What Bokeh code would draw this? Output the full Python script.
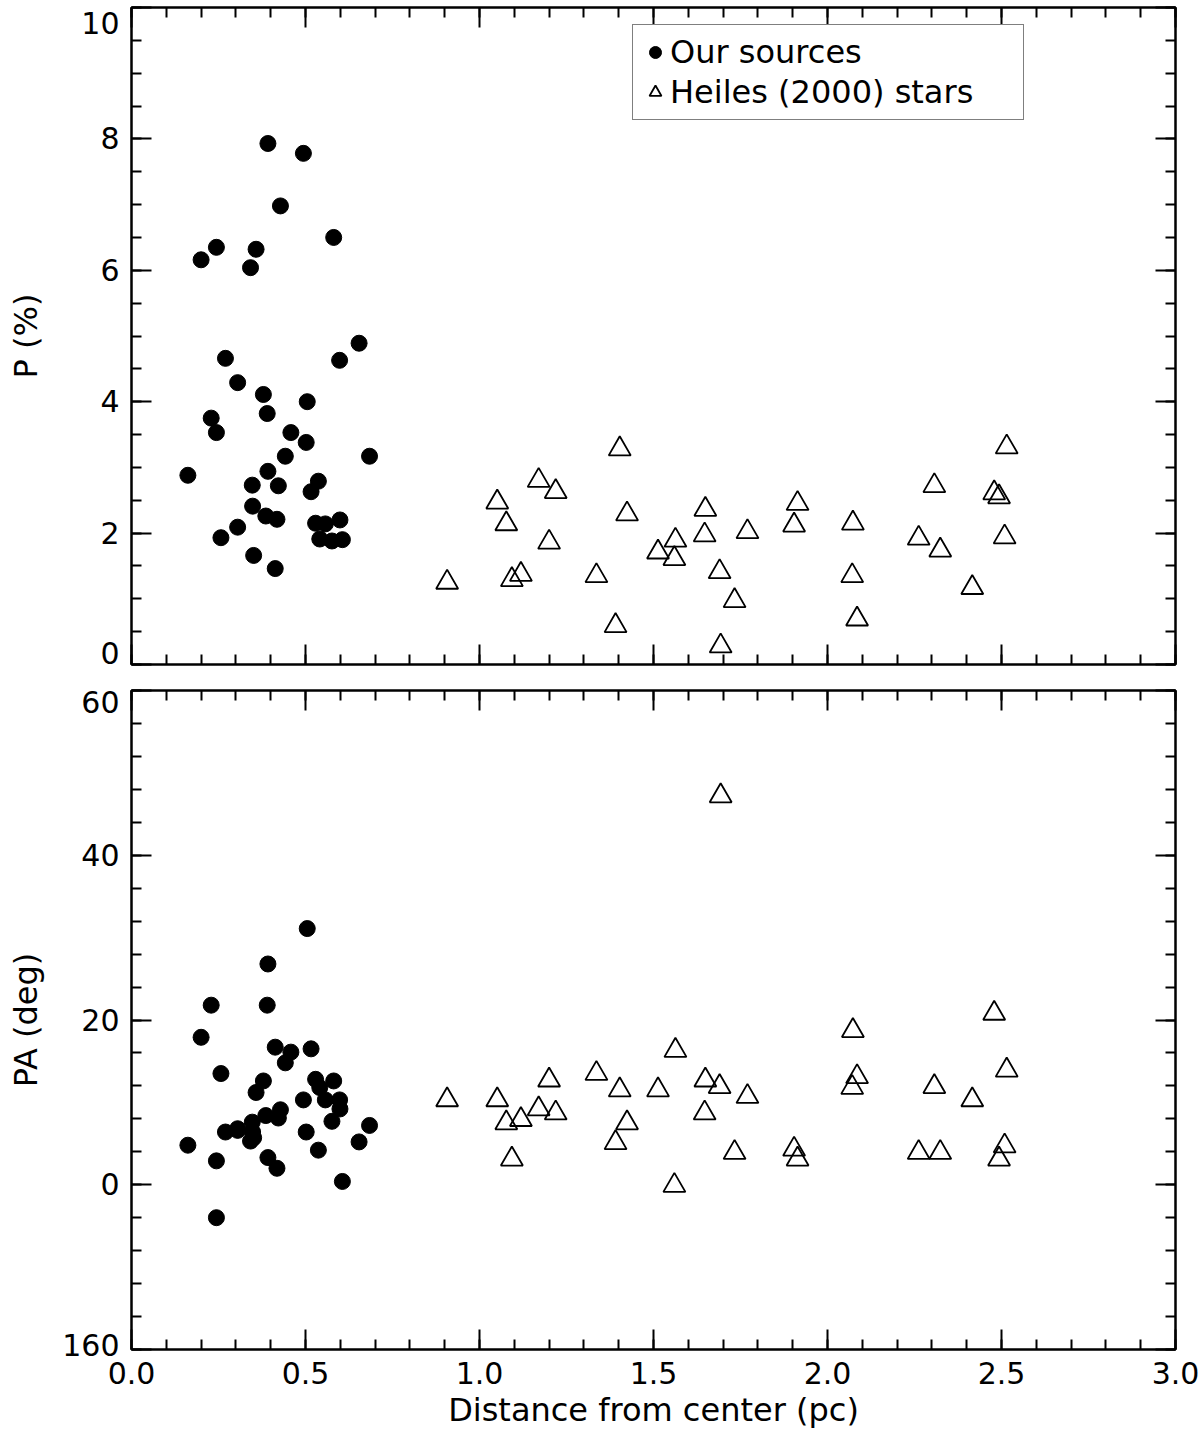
from bokeh.plotting import figure
from bokeh.models import (Range1d, LinearAxis, SingleIntervalTicker, Legend,
                          LegendItem, CustomJSTickFormatter, PrintfTickFormatter)
from bokeh.layouts import column
from bokeh.embed import file_html
from bokeh.resources import INLINE

# ---- data ----
src_dist = [0.162, 0.200, 0.229, 0.244, 0.244, 0.257, 0.270, 0.305, 0.305, 0.342,
            0.347, 0.348, 0.351, 0.358, 0.379, 0.386, 0.390, 0.392, 0.392, 0.413,
            0.418, 0.422, 0.428, 0.442, 0.458, 0.494, 0.502, 0.505, 0.516, 0.529,
            0.537, 0.541, 0.557, 0.576, 0.581, 0.598, 0.599, 0.606, 0.654, 0.684]
src_p = [2.88, 6.16, 3.75, 6.35, 3.53, 1.93, 4.66, 4.29, 2.09, 6.04,
         2.73, 2.41, 1.66, 6.32, 4.11, 2.26, 3.82, 7.93, 2.94, 1.46,
         2.21, 2.72, 6.98, 3.17, 3.53, 7.78, 3.38, 4.00, 2.63, 2.15,
         2.79, 1.91, 2.14, 1.88, 6.50, 4.63, 2.20, 1.90, 4.89, 3.17]
src_pa = [4.8, 17.9, 21.8, 2.9, -4.0, 13.5, 6.4, 6.6, 6.8, 5.3,
          7.6, 6.4, 5.7, 11.2, 12.6, 8.4, 21.8, 26.8, 3.3, 16.7,
          2.0, 8.1, 9.1, 14.8, 16.1, 10.3, 6.4, 31.1, 16.5, 12.8,
          4.2, 11.8, 10.3, 7.7, 12.6, 10.3, 9.2, 0.4, 5.2, 7.2]

star_dist = [0.907, 1.051, 1.077, 1.093, 1.119, 1.170, 1.200, 1.219, 1.336, 1.391,
             1.403, 1.424, 1.513, 1.560, 1.563, 1.647, 1.649, 1.690, 1.693, 1.733,
             1.770, 1.904, 1.914, 2.071, 2.073, 2.085, 2.262, 2.307, 2.324, 2.416,
             2.479, 2.493, 2.509, 2.515]
star_p = [1.25, 2.47, 2.14, 1.29, 1.37, 2.80, 1.86, 2.63, 1.35, 0.59,
          3.28, 2.29, 1.71, 1.61, 1.89, 1.97, 2.36, 1.41, 0.28, 0.97,
          2.02, 2.12, 2.45, 1.35, 2.15, 0.69, 1.92, 2.72, 1.74, 1.17,
          2.61, 2.55, 1.94, 3.31]
star_pa = [10.3, 10.3, 7.5, 3.1, 7.9, 9.2, 12.7, 8.7, 13.5, 5.1,
           11.5, 7.5, 11.5, -0.1, 16.3, 8.7, 12.7, 11.9, 47.2, 3.9,
           10.7, 4.3, 3.1, 11.8, 18.7, 13.1, 3.9, 11.9, 3.9, 10.3,
           20.8, 3.1, 4.7, 13.9]

p_ticks = [0, 2, 4, 6, 8, 10]
p_tick_labels = ["0", "2", "4", "6", "8", "10"]
pa_ticks = [-20, 0, 20, 40, 60]
pa_tick_labels = ["160", "0", "20", "40", "60"]
legend_labels = ["Our sources", "Heiles (2000) stars"]
x_title = "Distance from center (pc)"
y_title_top = "P (%)"
y_title_bottom = "PA (deg)"

FONT = "DejaVu Sans"
FS_TICK = "30px"
FS_TITLE = "32px"
FRAME_W = 1044


def edge_overrides(ticks, labels):
    # labels at the panel edges are nudged inward (as in the original plot)
    ov = {t: l for t, l in zip(ticks, labels)}
    ov[ticks[0]] = labels[0] + "\n"
    ov[ticks[-1]] = "\n" + labels[-1]
    return ov


def style_axis(ax, ticker, labels=True):
    ax.ticker = ticker
    ax.axis_line_color = "black"
    ax.axis_line_width = 2
    ax.major_tick_in = 20
    ax.major_tick_out = 0
    ax.minor_tick_in = 10
    ax.minor_tick_out = 0
    ax.major_tick_line_color = "black"
    ax.minor_tick_line_color = "black"
    ax.major_tick_line_width = 2
    ax.minor_tick_line_width = 2
    ax.axis_label_text_font = FONT
    ax.axis_label_text_font_size = FS_TITLE
    ax.axis_label_text_font_style = "normal"
    ax.axis_label_text_color = "black"
    if labels:
        ax.major_label_text_font = FONT
        ax.major_label_text_font_size = FS_TICK
        ax.major_label_text_color = "black"
        ax.major_label_standoff = 12
    else:
        ax.formatter = CustomJSTickFormatter(code="return ''")
        ax.major_label_text_font_size = "0px"
        ax.major_label_standoff = 0


def make_fig(frame_h, y0, y1, top, bottom):
    p = figure(frame_width=FRAME_W, frame_height=frame_h,
               x_range=Range1d(0, 3), y_range=Range1d(y0, y1),
               output_backend="svg", toolbar_location=None,
               min_border_left=131, min_border_right=25,
               min_border_top=top, min_border_bottom=bottom)
    p.xgrid.visible = False
    p.ygrid.visible = False
    p.outline_line_color = "black"
    p.outline_line_width = 2
    p.background_fill_color = "white"
    p.border_fill_color = "white"
    return p


def x_ticker():
    return SingleIntervalTicker(interval=0.5, num_minor_ticks=5)


# ---- top panel ----
p1 = make_fig(657, p_ticks[0], p_ticks[-1], 7, 12)
style_axis(p1.xaxis[0], x_ticker(), labels=False)
style_axis(p1.yaxis[0], SingleIntervalTicker(interval=2, num_minor_ticks=4))
p1.yaxis[0].major_label_overrides = edge_overrides(p_ticks, p_tick_labels)
p1.yaxis[0].major_label_text_line_height = 0.15
p1.yaxis[0].axis_label = y_title_top
p1.yaxis[0].axis_label_standoff = 33
ax = LinearAxis()
style_axis(ax, x_ticker(), labels=False)
p1.add_layout(ax, "above")
ax = LinearAxis()
style_axis(ax, SingleIntervalTicker(interval=2, num_minor_ticks=4), labels=False)
p1.add_layout(ax, "right")

r_src = p1.scatter(src_dist, src_p, marker="circle", size=16,
                   fill_color="black", line_color="black")
r_star = p1.scatter(star_dist, star_p, marker="triangle", size=22,
                    fill_color=None, line_color="black", line_width=1.8)

legend = Legend(items=[LegendItem(label=legend_labels[0], renderers=[r_src]),
                       LegendItem(label=legend_labels[1], renderers=[r_star])],
                location=(501, 544))
legend.border_line_color = "black"
legend.border_line_width = 1.5
legend.background_fill_color = "white"
legend.background_fill_alpha = 1
legend.label_text_font = FONT
legend.label_text_font_size = FS_TITLE
legend.label_text_color = "black"
legend.padding = 7
legend.margin = 0
legend.spacing = 0
legend.glyph_width = 30
legend.glyph_height = 30
legend.label_height = 40
legend.label_width = 346
legend.label_standoff = 0
p1.add_layout(legend)

# ---- bottom panel ----
p2 = make_fig(659, pa_ticks[0], pa_ticks[-1], 14, 90)
style_axis(p2.xaxis[0], x_ticker())
p2.xaxis[0].formatter = PrintfTickFormatter(format="%.1f")
p2.xaxis[0].axis_label = x_title
p2.xaxis[0].major_label_standoff = 12
p2.xaxis[0].axis_label_standoff = 4
style_axis(p2.yaxis[0], SingleIntervalTicker(interval=20, num_minor_ticks=5))
p2.yaxis[0].major_label_overrides = edge_overrides(pa_ticks, pa_tick_labels)
p2.yaxis[0].major_label_text_line_height = 0.25
p2.yaxis[0].axis_label = y_title_bottom
p2.yaxis[0].axis_label_standoff = 14
ax = LinearAxis()
style_axis(ax, x_ticker(), labels=False)
p2.add_layout(ax, "above")
ax = LinearAxis()
style_axis(ax, SingleIntervalTicker(interval=20, num_minor_ticks=5), labels=False)
p2.add_layout(ax, "right")

p2.scatter(src_dist, src_pa, marker="circle", size=16,
           fill_color="black", line_color="black")
p2.scatter(star_dist, star_pa, marker="triangle", size=22,
           fill_color=None, line_color="black", line_width=1.8)

layout = column(p1, p2, spacing=0)
open("out.html", "w").write(file_html(layout, INLINE))
